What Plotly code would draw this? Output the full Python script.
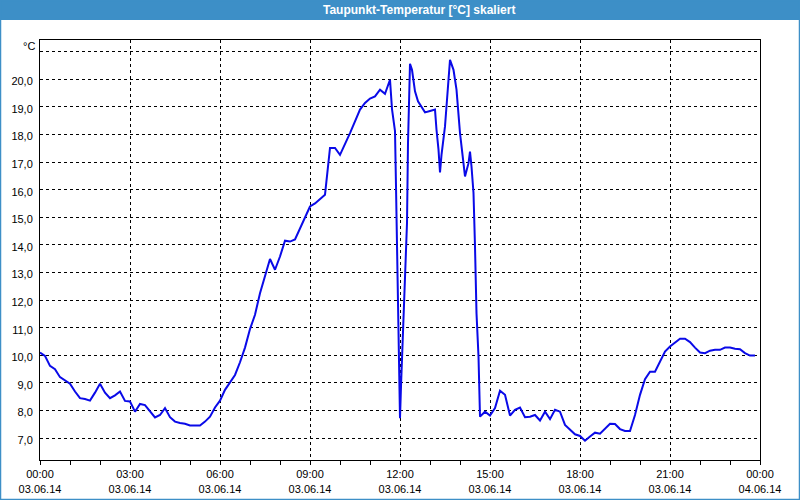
import plotly.graph_objects as go

# ---- data ----
times = [
    "00:00", "00:10", "00:20", "00:30", "00:40", "00:50", "01:00", "01:10", "01:20", "01:30",
    "01:40", "01:50", "02:00", "02:10", "02:20", "02:30", "02:40", "02:50", "03:00", "03:10",
    "03:20", "03:30", "03:40", "03:50", "04:00", "04:10", "04:20", "04:30", "04:40", "04:50",
    "05:00", "05:10", "05:20", "05:30", "05:40", "05:50", "06:00", "06:10", "06:20", "06:30",
    "06:40", "06:50", "07:00", "07:10", "07:20", "07:30", "07:40", "07:50", "08:00", "08:10",
    "08:20", "08:30", "08:40", "08:50", "09:00", "09:10", "09:20", "09:30", "09:40", "09:50",
    "10:00", "10:10", "10:20", "10:30", "10:40", "10:50", "11:00", "11:10", "11:20", "11:30",
    "11:40", "11:44", "11:50", "11:52", "11:54", "11:56", "11:58", "12:00", "12:02", "12:06",
    "12:10", "12:14", "12:16", "12:18", "12:20", "12:24", "12:30", "12:36", "12:44", "12:50",
    "13:00", "13:10", "13:13", "13:17", "13:20", "13:23", "13:30", "13:37", "13:40", "13:47",
    "13:53", "14:00", "14:07", "14:10", "14:17", "14:20", "14:23", "14:27", "14:30", "14:33",
    "14:37", "14:40", "14:50", "15:00", "15:10", "15:20", "15:30", "15:40", "15:50", "16:00",
    "16:10", "16:20", "16:30", "16:40", "16:50", "17:00", "17:10", "17:20", "17:30", "17:40",
    "17:50", "18:00", "18:10", "18:20", "18:30", "18:40", "18:50", "19:00", "19:10", "19:20",
    "19:30", "19:40", "19:50", "20:00", "20:10", "20:20", "20:30", "20:40", "20:50", "21:00",
    "21:10", "21:20", "21:30", "21:40", "21:50", "22:00", "22:10", "22:20", "22:30", "22:40",
    "22:50", "23:00", "23:10", "23:20", "23:30", "23:40", "23:50",
]
dewpoint = [
    10.10, 9.98, 9.62, 9.50, 9.21, 9.10, 8.97, 8.69, 8.45, 8.42,
    8.36, 8.65, 8.97, 8.65, 8.45, 8.55, 8.69, 8.35, 8.33, 7.96,
    8.24, 8.20, 7.96, 7.75, 7.84, 8.09, 7.76, 7.60, 7.55, 7.52,
    7.46, 7.46, 7.46, 7.60, 7.78, 8.11, 8.36, 8.75, 9.03, 9.29,
    9.75, 10.28, 10.95, 11.47, 12.25, 12.86, 13.49, 13.10, 13.58, 14.15,
    14.12, 14.20, 14.58, 15.02, 15.39, 15.50, 15.65, 15.82, 17.51, 17.51,
    17.26, 17.69, 18.05, 18.47, 18.90, 19.14, 19.30, 19.38, 19.62, 19.47,
    19.98, 18.92, 18.12, 16.12, 14.08, 11.90, 9.84, 7.72, 8.87, 11.04,
    12.98, 14.79, 17.69, 19.14, 20.56, 20.34, 19.56, 19.20, 18.96, 18.80,
    18.85, 18.90, 18.17, 17.45, 16.62, 17.26, 18.29, 19.98, 20.70, 20.34,
    19.62, 18.05, 16.96, 16.48, 16.96, 17.38, 16.84, 15.88, 13.94, 11.53,
    9.96, 7.78, 7.96, 7.82, 8.09, 8.72, 8.57, 7.82, 8.03, 8.11,
    7.76, 7.78, 7.84, 7.64, 7.96, 7.69, 8.03, 7.96, 7.48, 7.30,
    7.14, 7.08, 6.91, 7.06, 7.20, 7.16, 7.33, 7.52, 7.51, 7.33,
    7.26, 7.26, 7.84, 8.57, 9.14, 9.41, 9.41, 9.78, 10.14, 10.32,
    10.46, 10.60, 10.60, 10.48, 10.28, 10.10, 10.08, 10.17, 10.20, 10.20,
    10.28, 10.28, 10.24, 10.22, 10.08, 9.99, 9.99,
]

x_tick_vals = ["2014-06-03 00:00", "2014-06-03 03:00", "2014-06-03 06:00", "2014-06-03 09:00",
               "2014-06-03 12:00", "2014-06-03 15:00", "2014-06-03 18:00", "2014-06-03 21:00",
               "2014-06-04 00:00"]
x_tick_text = ["00:00<br>03.06.14", "03:00<br>03.06.14", "06:00<br>03.06.14", "09:00<br>03.06.14",
               "12:00<br>03.06.14", "15:00<br>03.06.14", "18:00<br>03.06.14", "21:00<br>03.06.14",
               "00:00<br>04.06.14"]
y_tick_vals = [7, 8, 9, 10, 11, 12, 13, 14, 15, 16, 17, 18, 19, 20, 21]
y_tick_text = ["7,0", "8,0", "9,0", "10,0", "11,0", "12,0", "13,0", "14,0", "15,0", "16,0",
               "17,0", "18,0", "19,0", "20,0", ""]

title_text = "Taupunkt-Temperatur [°C] skaliert"
unit_text = "°C"

# ---- figure ----
W, H = 800, 500
ML, MR, MT, MB = 40, 40, 40, 40
PW, PH = W - ML - MR, H - MT - MB

def px_x(px):
    return (px - ML) / PW

def px_y(py):
    return (H - MB - py) / PH

x_full = ["2014-06-03 " + t for t in times]

fig = go.Figure()
fig.add_trace(go.Scatter(
    x=x_full, y=dewpoint, mode="lines",
    line=dict(color="#0A0AE8", width=2),
    hoverinfo="skip", showlegend=False,
))

font = dict(family="Liberation Sans, DejaVu Sans, sans-serif", size=11, color="#000000")

fig.update_layout(
    width=W, height=H,
    margin=dict(l=ML, r=MR, t=MT, b=MB, pad=0, autoexpand=False),
    paper_bgcolor="#FFFFFF", plot_bgcolor="#FFFFFF",
    font=font,
    showlegend=False,
    xaxis=dict(
        type="date", automargin=False,
        range=["2014-06-03 00:00", "2014-06-04 00:00"],
        tickmode="array", tickvals=x_tick_vals, ticktext=x_tick_text,
        ticks="outside", ticklen=4, tickcolor="#000000", tickwidth=1,
        showline=True, linecolor="#000000", linewidth=1, mirror=True,
        showgrid=True, gridcolor="#000000", gridwidth=1, griddash="3px,3px",
        minor=dict(dtick=3600000, ticks="outside", ticklen=4, tickcolor="#000000",
                   showgrid=False),
        zeroline=False, fixedrange=True,
        tickfont=font,
    ),
    yaxis=dict(
        automargin=False,
        range=[6.21, 21.42],
        tickmode="array", tickvals=y_tick_vals, ticktext=y_tick_text,
        ticks="", ticklabelstandoff=4, ticklabelshift=2,
        showline=True, linecolor="#000000", linewidth=1, mirror=True,
        showgrid=True, gridcolor="#000000", gridwidth=1, griddash="3px,3px",
        zeroline=False, fixedrange=True,
        tickfont=font,
    ),
    shapes=[
        # title bar
        dict(type="rect", xref="paper", yref="paper",
             x0=px_x(0), x1=px_x(W), y0=px_y(20), y1=px_y(0),
             fillcolor="#3D8FC7", line=dict(width=0), layer="below"),
        # window frame
        dict(type="rect", xref="paper", yref="paper",
             x0=px_x(0.5), x1=px_x(W - 0.5), y0=px_y(H - 0.5), y1=px_y(0.5),
             line=dict(color="#3D8FC7", width=1.5), fillcolor="rgba(0,0,0,0)", layer="above"),
    ],
    annotations=[
        dict(text="<b>" + title_text + "</b>", xref="paper", yref="paper",
             x=px_x(419), y=px_y(10), xanchor="center", yanchor="middle", showarrow=False,
             font=dict(family="Liberation Sans, DejaVu Sans, sans-serif", size=12, color="#FFFFFF")),
        dict(text=unit_text, xref="paper", yref="paper",
             x=px_x(37), y=px_y(46), xanchor="right", yanchor="middle", showarrow=False,
             font=font),
    ],
)

fig.write_html(
    "out.html",
    config={"displayModeBar": False, "staticPlot": True},
    post_script="document.body.style.margin='0';document.body.style.overflow='hidden';",
)
